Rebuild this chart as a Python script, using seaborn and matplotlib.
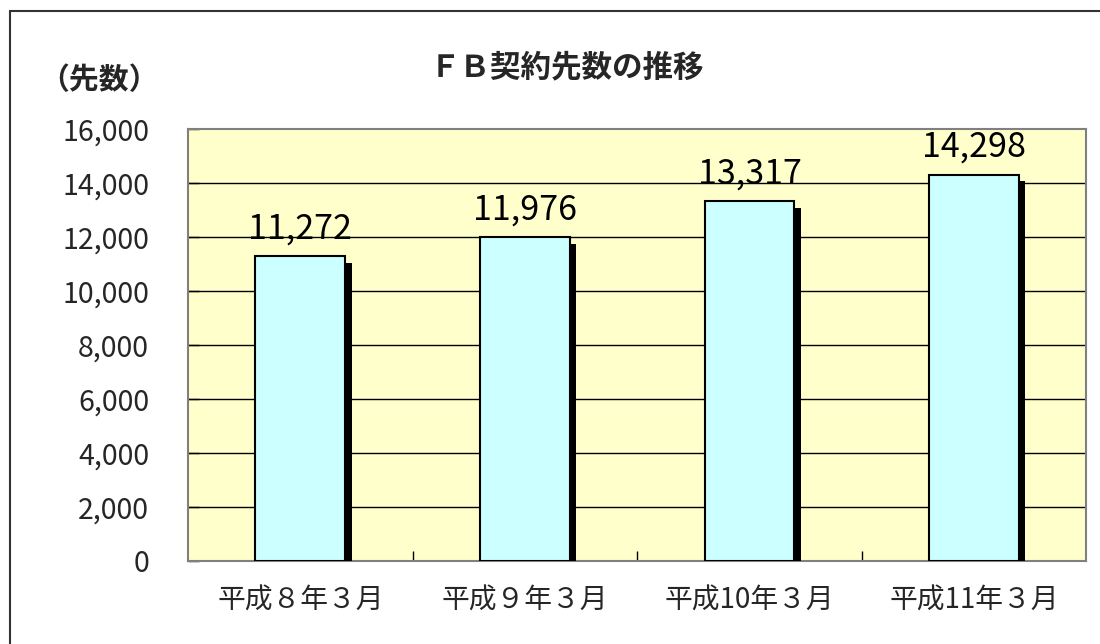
import matplotlib.pyplot as plt
import matplotlib.patheffects as mpe
import matplotlib.ticker as mticker
from matplotlib.patches import Rectangle
import seaborn as sns

categories = ['平成８年３月', '平成９年３月', '平成10年３月', '平成11年３月']
counts = [11272, 11976, 13317, 14298]
y_ticks = list(range(0, 16001, 2000))

PLOT_BG = '#FFFFCC'
BAR_COLOUR = '#CCFFFF'

sns.set_theme(style='white')
plt.rcParams['font.family'] = ['Noto Sans CJK JP', 'DejaVu Sans']

fig = plt.figure(figsize=(11, 6.44), dpi=100)
ax = fig.add_axes([0.171, 0.129, 0.8165, 0.671])
ax.set_facecolor(PLOT_BG)

sns.barplot(
    x=categories, y=counts, ax=ax, color=BAR_COLOUR, saturation=1,
    width=0.4, edgecolor='black', linewidth=1.5, zorder=3,
)

# drop shadow to the lower right of each bar
for bar in ax.patches:
    bar.set_path_effects([
        mpe.SimplePatchShadow(offset=(4.5, -4.5), shadow_rgbFace='black', alpha=1),
        mpe.Normal(),
    ])

# value labels
for i, v in enumerate(counts):
    ax.annotate(
        f'{v:,}', (i, v), xytext=(0, 7), textcoords='offset points',
        ha='center', va='bottom', fontsize=24.5, color='black',
    )

ax.set_ylim(0, 16000)
ax.set_xlim(-0.5, 3.5)
ax.set_yticks(y_ticks)
ax.yaxis.set_major_formatter(mticker.FuncFormatter(lambda v, p: f'{int(v):,}'))
for y in y_ticks[1:-1]:
    ax.axhline(y, color='black', lw=1, zorder=1)

ax.tick_params(axis='y', direction='in', length=8, width=1, color='black',
               pad=28, labelsize=20.5, left=True)
ax.tick_params(axis='x', which='major', length=0, pad=18, labelsize=20)
ax.xaxis.set_minor_locator(mticker.FixedLocator([0.5, 1.5, 2.5]))
ax.tick_params(axis='x', which='minor', direction='in', length=7, width=1,
               color='black', bottom=True)

for side in ['top', 'right', 'bottom', 'left']:
    ax.spines[side].set_color('#808080')
    ax.spines[side].set_linewidth(1.5)
ax.set_xlabel('')
ax.set_ylabel('')

fig.text(0.515, 0.895, 'ＦＢ契約先数の推移', ha='center', va='center',
         fontsize=22, fontweight='bold')
fig.text(0.036, 0.876, '（先数）', ha='left', va='center',
         fontsize=21.5, fontweight='bold')

# outer chart-area border
fig.patches.append(Rectangle(
    (10 / 1100, -0.05), 1.2, 1 - 11 / 644 + 0.05, transform=fig.transFigure,
    fill=False, edgecolor='#333333', lw=1.5,
))

fig.savefig('out.png', dpi=100, facecolor='white')
